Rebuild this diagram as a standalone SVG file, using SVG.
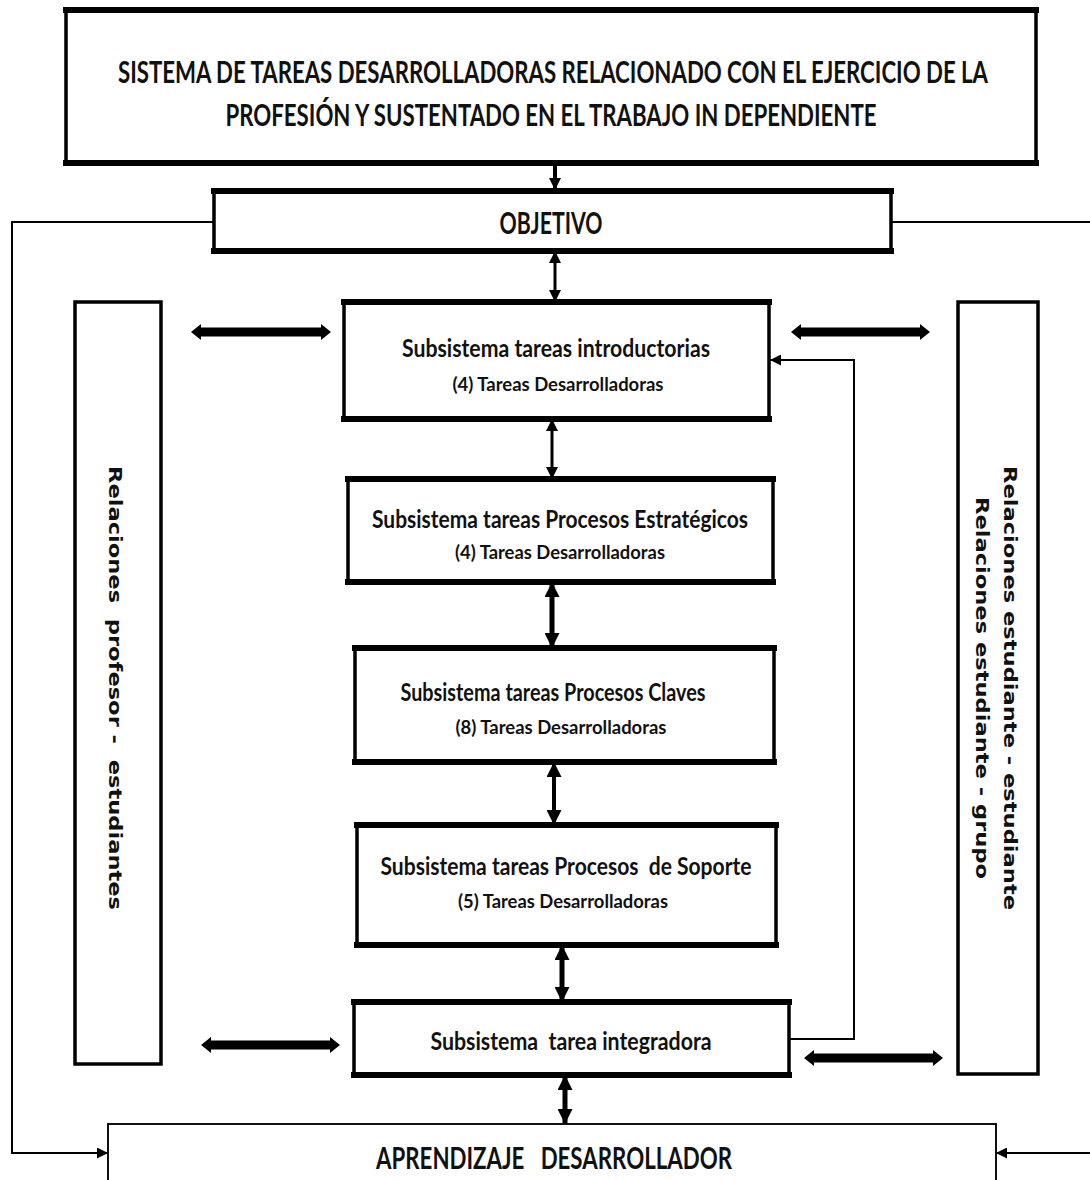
<svg xmlns="http://www.w3.org/2000/svg" width="1090" height="1180" viewBox="0 0 1090 1180">
<style>
  text { white-space: pre; }
  .box { fill: #fff; stroke: #000; stroke-width: 3.5; }
  .edge { stroke: #000; stroke-width: 6; stroke-linecap: square; }
  .thin { fill: #fff; stroke: #111; stroke-width: 2; }
  .t { font-family: Lato, "Open Sans", "Liberation Sans", sans-serif; font-weight: bold; fill: #111; text-anchor: middle; }
  .cap { font-size: 30px; }
  .main { font-size: 25px; }
  .sub { font-size: 19px; }
  .side { font-family: "DejaVu Sans", "Liberation Sans", sans-serif; font-weight: bold; font-size: 17px; fill: #111; text-anchor: middle; }
  .conn { stroke: #000; fill: none; }
  .harrow { fill: #000; }
</style>
<defs>
  <marker id="ah" viewBox="0 0 10 10" refX="10" refY="5" markerWidth="12" markerHeight="12" markerUnits="userSpaceOnUse" orient="auto-start-reverse">
    <path d="M0,0 L10,5 L0,10 z" fill="#000"/>
  </marker>
  <marker id="ahb" viewBox="0 0 10 10" refX="10" refY="5" markerWidth="15" markerHeight="15" markerUnits="userSpaceOnUse" orient="auto-start-reverse">
    <path d="M0,0 L10,5 L0,10 z" fill="#000"/>
  </marker>
  <marker id="ahs" viewBox="0 0 10 10" refX="10" refY="5" markerWidth="11" markerHeight="11" markerUnits="userSpaceOnUse" orient="auto-start-reverse">
    <path d="M0,0 L10,5 L0,10 z" fill="#000"/>
  </marker>
</defs>

<g id="connectors">
  <line class="conn" x1="555" y1="163" x2="555" y2="190" stroke-width="4" marker-end="url(#ah)"/>
  <line class="conn" x1="555" y1="251" x2="555" y2="302" stroke-width="3" marker-start="url(#ah)" marker-end="url(#ah)"/>
  <line class="conn" x1="552" y1="419" x2="552" y2="479" stroke-width="3" marker-start="url(#ah)" marker-end="url(#ah)"/>
  <line class="conn" x1="552" y1="582" x2="552" y2="648" stroke-width="5" marker-start="url(#ahb)" marker-end="url(#ahb)"/>
  <line class="conn" x1="554" y1="762" x2="554" y2="825" stroke-width="4" marker-start="url(#ahb)" marker-end="url(#ahb)"/>
  <line class="conn" x1="562" y1="945" x2="562" y2="1002" stroke-width="5" marker-start="url(#ahb)" marker-end="url(#ahb)"/>
  <line class="conn" x1="565" y1="1075" x2="565" y2="1124" stroke-width="5" marker-start="url(#ahb)" marker-end="url(#ahb)"/>
  <polyline class="conn" points="214,222 12,222 12,1153 108,1153" stroke-width="2" marker-end="url(#ahs)"/>
  <polyline class="conn" points="891,222 1092,222" stroke-width="2"/>
  <polyline class="conn" points="1092,1153 996,1153" stroke-width="2" marker-end="url(#ahs)"/>
  <polyline class="conn" points="789,1039 854,1039 854,360 770,360" stroke-width="2" marker-end="url(#ahs)"/>
  <polygon class="harrow" points="191,332 201,324 201,327.5 321,327.5 321,324 331,332 321,340 321,336.5 201,336.5 201,340"/>
  <polygon class="harrow" points="791,332 801,324 801,327.5 920,327.5 920,324 930,332 920,340 920,336.5 801,336.5 801,340"/>
  <polygon class="harrow" points="201,1045 211,1037 211,1040.5 330,1040.5 330,1037 340,1045 330,1053 330,1049.5 211,1049.5 211,1053"/>
  <polygon class="harrow" points="804,1058 814,1050 814,1053.5 933,1053.5 933,1050 943,1058 933,1066 933,1062.5 814,1062.5 814,1066"/>
</g>

<g id="title">
  <rect class="box" x="66" y="10" width="970" height="153"/>
  <line class="edge" x1="66" y1="10" x2="1036" y2="10"/>
  <line class="edge" x1="66" y1="163" x2="1036" y2="163"/>
  <text class="t cap" transform="translate(553 83) scale(0.7 1)" x="0" y="0" textLength="1243" lengthAdjust="spacingAndGlyphs">SISTEMA DE TAREAS DESARROLLADORAS RELACIONADO CON EL EJERCICIO DE LA</text>
  <text class="t cap" transform="translate(551 126) scale(0.7 1)" x="0" y="0" textLength="930" lengthAdjust="spacingAndGlyphs">PROFESIÓN Y SUSTENTADO EN EL TRABAJO IN DEPENDIENTE</text>
</g>

<g id="objetivo">
  <rect class="box" x="214" y="191" width="677" height="60"/>
  <line class="edge" x1="214" y1="191" x2="891" y2="191"/>
  <line class="edge" x1="214" y1="251" x2="891" y2="251"/>
  <text class="t cap" x="551" y="234" textLength="103" lengthAdjust="spacingAndGlyphs">OBJETIVO</text>
</g>

<g id="rel-profesor">
  <rect class="box" x="75" y="302" width="86" height="762"/>
  <text class="side" x="109" y="688" transform="rotate(90 109 688)" textLength="444" lengthAdjust="spacingAndGlyphs">Relaciones  profesor -  estudiantes</text>
</g>

<g id="rel-estudiante">
  <rect class="box" x="958" y="302" width="80" height="772"/>
  <text class="side" x="1004" y="688" transform="rotate(90 1004 688)" textLength="444" lengthAdjust="spacingAndGlyphs">Relaciones estudiante - estudiante</text>
  <text class="side" x="976" y="688" transform="rotate(90 976 688)" textLength="382" lengthAdjust="spacingAndGlyphs">Relaciones estudiante - grupo</text>
</g>

<g id="sub-introductorias">
  <rect class="box" x="344" y="302" width="425" height="117"/>
  <line class="edge" x1="344" y1="302" x2="769" y2="302"/>
  <line class="edge" x1="344" y1="419" x2="769" y2="419"/>
  <text class="t main" x="556" y="357" textLength="308" lengthAdjust="spacingAndGlyphs">Subsistema tareas introductorias</text>
  <text class="t sub" x="558" y="391" textLength="211" lengthAdjust="spacingAndGlyphs">(4) Tareas Desarrolladoras</text>
</g>

<g id="sub-estrategicos">
  <rect class="box" x="348" y="479" width="425" height="103"/>
  <line class="edge" x1="348" y1="479" x2="773" y2="479"/>
  <line class="edge" x1="348" y1="582" x2="773" y2="582"/>
  <text class="t main" x="560" y="528" textLength="376" lengthAdjust="spacingAndGlyphs">Subsistema tareas Procesos Estratégicos</text>
  <text class="t sub" x="560" y="559" textLength="210" lengthAdjust="spacingAndGlyphs">(4) Tareas Desarrolladoras</text>
</g>

<g id="sub-claves">
  <rect class="box" x="355" y="648" width="419" height="114"/>
  <line class="edge" x1="355" y1="648" x2="774" y2="648"/>
  <line class="edge" x1="355" y1="762" x2="774" y2="762"/>
  <text class="t main" x="553" y="701" textLength="305" lengthAdjust="spacingAndGlyphs">Subsistema tareas Procesos Claves</text>
  <text class="t sub" x="561" y="734" textLength="211" lengthAdjust="spacingAndGlyphs">(8) Tareas Desarrolladoras</text>
</g>

<g id="sub-soporte">
  <rect class="box" x="357" y="825" width="419" height="120"/>
  <line class="edge" x1="357" y1="825" x2="776" y2="825"/>
  <line class="edge" x1="357" y1="945" x2="776" y2="945"/>
  <text class="t main" x="566" y="875" textLength="371" lengthAdjust="spacingAndGlyphs">Subsistema tareas Procesos  de Soporte</text>
  <text class="t sub" x="563" y="908" textLength="210" lengthAdjust="spacingAndGlyphs">(5) Tareas Desarrolladoras</text>
</g>

<g id="sub-integradora">
  <rect class="box" x="354" y="1002" width="435" height="73"/>
  <line class="edge" x1="354" y1="1002" x2="789" y2="1002"/>
  <line class="edge" x1="354" y1="1075" x2="789" y2="1075"/>
  <text class="t main" x="571" y="1050" textLength="281" lengthAdjust="spacingAndGlyphs">Subsistema  tarea integradora</text>
</g>

<g id="aprendizaje">
  <rect class="thin" x="108" y="1124" width="888" height="80"/>
  <text class="t cap" x="554" y="1169" textLength="356" lengthAdjust="spacingAndGlyphs">APRENDIZAJE   DESARROLLADOR</text>
</g>
</svg>
